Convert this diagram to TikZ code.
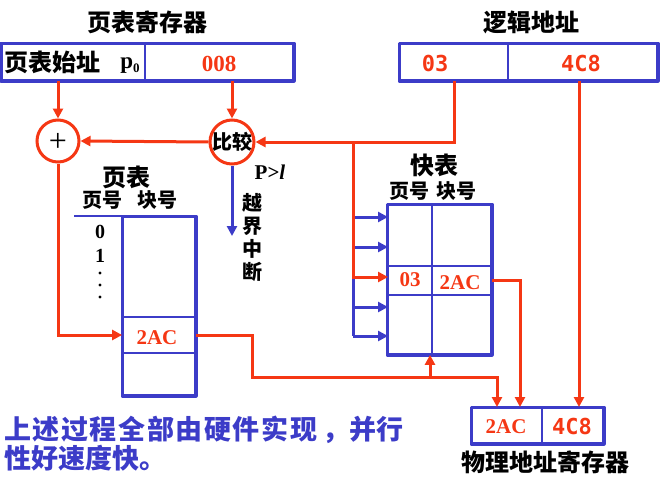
\documentclass[tikz,border=0pt]{standalone}
\usepackage{fontspec}
\setmainfont{Liberation Serif}
\newfontfamily\cjk{Noto Sans CJK SC}
\newfontfamily\monob{DejaVu Sans Mono}
\usetikzlibrary{arrows.meta,calc}
\definecolor{myred}{RGB}{245,55,20}
\definecolor{myblue}{RGB}{60,60,200}
\newcommand\lsp{\kern1.6pt}
\tikzset{
  cell/.style={draw=myblue,line width=1.8pt,inner sep=0pt,minimum width=#1},
  outer/.style={draw=myblue,line width=3.2pt,line join=round},
  redln/.style={draw=myred,line width=3pt},
  redarr/.style={redln,-{Triangle[length=10pt,width=10pt]}},
  blueln/.style={draw=myblue,line width=3pt},
  bluearr/.style={blueln,-{Triangle[length=10pt,width=10pt]}},
  circ/.style={circle,draw=myred,line width=3pt,inner sep=0pt,minimum size=#1},
  cjkt/.style={font=\cjk\bfseries\fontsize{#1}{#1}\selectfont,inner sep=0pt},
  sert/.style={font=\bfseries\fontsize{#1}{#1}\selectfont,inner sep=0pt},
  mont/.style={font=\monob\bfseries\fontsize{#1}{#1}\selectfont,inner sep=0pt,text=myred},
}
\begin{document}
\begin{tikzpicture}[x=1pt,y=-1pt]
\useasboundingbox (0,0) rectangle (664,477);
% titles
\node[cjkt=24] (t1) at (147,22) {页表寄存器};
\node[cjkt=24] (t2) at (531,22) {逻辑地址};
% page table register
\node[cell=143pt,minimum height=36pt] (ptrA) at (73.5,62) {};
\node[cell=148pt,minimum height=36pt] (ptrB) at (219,62) {};
\draw[outer] (ptrA.north west) rectangle (ptrB.south east);
\node[cjkt=24,anchor=west] (ptrT) at (4,62) {页表始址};
\node[sert=23] (p0) at (130,66) {p\raisebox{-0.35ex}{\fontsize{13}{13}\selectfont 0}};
\node[sert=23,text=myred] (v008) at (219,64) {008};
% logical address
\node[cell=108pt,minimum height=36pt] (laA) at (454,62) {};
\node[cell=149pt,minimum height=36pt] (laB) at (582.5,62) {};
\draw[outer] (laA.north west) rectangle (laB.south east);
\node[mont=22] (v03) at (435,63) {03};
\node[mont=22] (v4c8) at (581,63) {4C8};
% circles
\node[circ=42pt] (plus) at (58,141) {};
\node[font=\fontsize{32}{32}\selectfont,inner sep=0pt] (plusT) at (58,142) {+};
\node[circ=44pt] (cmp) at (232,142) {};
\node[cjkt=20] (cmpT) at (232,142) {比较};
\node[font=\bfseries\fontsize{21}{21}\selectfont,inner sep=0pt] (pl) at (270,172) {P>\textit{l}};
\node[cjkt=20,align=center,font=\cjk\bfseries\fontsize{20}{23}\selectfont] (yj) at (252,238) {越\\界\\中\\断};
\coordinate (stop) at (232,236);
% page table
\node[cjkt=24] (ptT) at (126,177) {页表};
\node[cjkt=20] (ptH1) at (102,200) {页号};
\node[cjkt=20] (ptH2) at (157,200) {块号};
\node[cell=72pt,minimum height=100pt] (pt1) at (159,267) {};
\node[cell=72pt,minimum height=36pt] (pt2) at (159,335) {};
\node[cell=72pt,minimum height=42pt] (pt3) at (159,374) {};
\draw[outer] (pt1.north west) rectangle (pt3.south east);
\draw[myblue,line width=1.3pt] ([yshift=-32pt]pt1.north west) -- (pt1.north west) -- ++(-48,0);
\node[sert=21,text=myred] (pt2T) at (157,338) {2AC};
\node[sert=20] (n0) at (100,232) {0};
\node[sert=20] (n1) at (100,256) {1};
\foreach \yy in {273,285,297} \fill (100,\yy) circle (1.6pt);
% quick table
\node[cjkt=24] (qtT) at (434,165) {快表};
\node[cjkt=20] (qtH) at (433,191) {页号\hspace{0.35em}块号};
\node[cell=44pt,minimum height=61pt] (qA1) at (410,235.5) {};
\node[cell=59pt,minimum height=61pt] (qB1) at (461.5,235.5) {};
\node[cell=44pt,minimum height=29pt] (qA2) at (410,280.5) {};
\node[cell=59pt,minimum height=29pt] (qB2) at (461.5,280.5) {};
\node[cell=44pt,minimum height=59pt] (qA3) at (410,324.5) {};
\node[cell=59pt,minimum height=59pt] (qB3) at (461.5,324.5) {};
\draw[outer] (qA1.north west) rectangle (qB3.south east);
\node[sert=21,text=myred] (q03) at (410,280) {03};
\node[sert=21,text=myred] (q2ac) at (460,283) {2AC};
% physical register
\node[cell=70pt,minimum height=35pt] (ph1) at (507,425.5) {};
\node[cell=61pt,minimum height=35pt] (ph2) at (572.5,425.5) {};
\draw[outer] (ph1.north west) rectangle (ph2.south east);
\node[sert=21,text=myred] (ph1T) at (506,427) {2AC};
\node[mont=22] (ph2T) at (572,426) {4C8};
\node[cjkt=24] (phL) at (545,462) {物理地址寄存器};
% bottom note
\node[anchor=west,align=left,text=myblue,inner sep=0pt,font=\cjk\bfseries\fontsize{27}{29}\selectfont] (note) at (4,444) {上\lsp 述\lsp 过\lsp 程\lsp 全\lsp 部\lsp 由\lsp 硬\lsp 件\lsp 实\lsp 现\kern5pt，并行\\性好速度快。};
% coordinates
\coordinate (br) at (353,141);
\coordinate (e1) at (388,217);
\coordinate (e2) at (388,247);
\coordinate (e3) at (388,277);
\coordinate (e4) at (388,307);
\coordinate (e5) at (388,336);
\coordinate (k1) at (252,377);
\coordinate (k2) at (430,377);
\coordinate (in1) at (497,407);
\coordinate (in2) at (520,407);
\coordinate (in3) at (579,407);
% connectors
\draw[redarr] (plus |- ptrA.south) -- (plus.north);
\draw[redarr] (cmp |- ptrB.south) -- (cmp.north);
\draw[redarr] (laA.south) |- (cmp.east);
\draw[redarr] (cmp.west) -- (plus.east);
\draw[bluearr] (cmp.south) -- (stop);
\draw[blueln] (br |- e3) -- (br |- e5);
\foreach \e in {e1,e2,e4,e5} \draw[bluearr] (br |- \e) -- (\e);
\draw[redarr] (br) |- (e3);
\draw[redarr] (plus.south) |- (pt2.west);
\draw[redarr] (pt2.east) -| (k1) -| (in1);
\draw[redarr] (k2) -- (k2 |- qA3.south);
\draw[redarr] (qB2.east) -| (in2);
\draw[redarr] (in3 |- laB.south) -- (in3);
\end{tikzpicture}
\end{document}
